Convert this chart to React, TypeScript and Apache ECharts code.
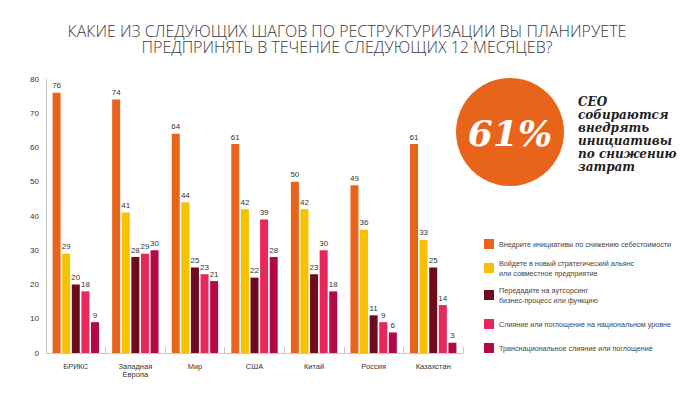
import React, { useEffect, useRef } from "react";
import * as echarts from "echarts";

const titleLines = [
  "КАКИЕ ИЗ СЛЕДУЮЩИХ ШАГОВ ПО РЕСТРУКТУРИЗАЦИИ ВЫ ПЛАНИРУЕТЕ",
  "ПРЕДПРИНЯТЬ В ТЕЧЕНИЕ СЛЕДУЮЩИХ 12 МЕСЯЦЕВ?",
];
const categories = ["БРИКС", "Западная\nЕвропа", "Мир", "США", "Китай", "Россия", "Казахстан"];
const seriesNames = [
  "Внедрите инициативы по снижению себестоимости",
  "Войдете в новый стратегический альянс\nили совместное предприятие",
  "Передадите на аутсорсинг\nбизнес-процесс или функцию",
  "Слияние или поглощение на национальном уровне",
  "Транснациональное слияние или поглощение",
];
const costCut = [76, 74, 64, 61, 50, 49, 61];
const alliance = [29, 41, 44, 42, 42, 36, 33];
const outsourcing = [20, 28, 25, 22, 23, 11, 25];
const domesticMA = [18, 29, 23, 39, 30, 9, 14];
const crossBorderMA = [9, 30, 21, 28, 18, 6, 3];
const seriesValues = [costCut, alliance, outsourcing, domesticMA, crossBorderMA];
const colors = ["#E8641B", "#F5C100", "#6E0B1E", "#E8275B", "#B30A45"];
const calloutValue = "61%";
const calloutLines = ["CEO", "собираются", "внедрять", "инициативы", "по снижению", "затрат"];

const legendTops = [239, 258, 285, 319, 343];
const titleTops = [23.5, 39.5];

export default function App() {
  const ref = useRef<HTMLDivElement>(null);
  useEffect(() => {
    if (!ref.current) return;
    const chart = echarts.init(ref.current, null, { renderer: "svg" });
    const font = "Liberation Sans, Arial, sans-serif";
    chart.setOption({
      animation: false,
      backgroundColor: "#ffffff",
      title: titleLines.map((t, i) => ({
        text: t,
        left: 347,
        textAlign: "center",
        top: titleTops[i],
        padding: 0,
        textStyle: {
          fontFamily: "Open Sans, Noto Sans, sans-serif",
          fontWeight: 300,
          fontSize: 16,
          lineHeight: 15,
          color: "#3a3a3a",
        },
      })),
      legend: seriesNames.map((n, i) => ({
        data: [n],
        orient: "vertical",
        left: 484,
        top: legendTops[i],
        padding: 0,
        itemWidth: 10,
        itemHeight: 10,
        itemGap: 0,
        icon: "rect",
        selectedMode: false,
        textStyle: { fontFamily: font, fontSize: 7.2, lineHeight: 10, color: "#444" },
      })),
      grid: { left: 46, top: 79, width: 417, height: 274, containLabel: false },
      xAxis: {
        type: "category",
        data: categories,
        axisLine: { lineStyle: { color: "#c8c8c8", width: 1 } },
        axisTick: { show: true, inside: true, length: 6, interval: 0, lineStyle: { color: "#c8c8c8" } },
        axisLabel: { interval: 0, fontFamily: font, fontSize: 7.5, lineHeight: 8, color: "#333", margin: 9 },
      },
      yAxis: {
        type: "value",
        min: 0,
        max: 80,
        interval: 10,
        axisLine: { show: true, lineStyle: { color: "#c8c8c8", width: 1 } },
        axisTick: { show: false },
        splitLine: { show: false },
        axisLabel: { fontFamily: font, fontSize: 8, color: "#333", margin: 7 },
      },
      series: seriesNames.map((n, i) => ({
        name: n,
        type: "bar",
        data: seriesValues[i],
        barWidth: 8,
        barGap: "20%",
        itemStyle: { color: colors[i] },
        label: {
          show: true,
          position: "top",
          distance: 3,
          fontFamily: font,
          fontSize: 8,
          color: "#333",
        },
      })),
      graphic: [
        {
          type: "circle",
          shape: { cx: 510, cy: 132, r: 54 },
          style: { fill: "#E8641B" },
        },
        {
          type: "text",
          x: 510,
          y: 133,
          style: {
            text: calloutValue,
            fill: "#ffffff",
            font: "italic bold 36px 'DejaVu Serif', serif",
            align: "center",
            verticalAlign: "middle",
          },
        },
        {
          type: "text",
          x: 578,
          y: 95,
          style: {
            text: calloutLines.join("\n"),
            fill: "#1e1e1e",
            font: "italic bold 12px 'DejaVu Serif', serif",
            lineHeight: 13,
            align: "left",
            verticalAlign: "top",
          },
        },
      ],
    });
    return () => chart.dispose();
  }, []);
  return (
    <div
      ref={ref}
      style={{ position: "fixed", left: 0, top: 0, width: 699, height: 396 }}
    />
  );
}
